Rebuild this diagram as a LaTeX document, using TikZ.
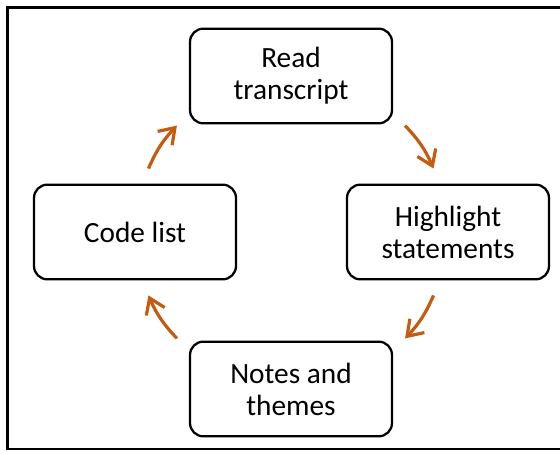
\documentclass[tikz,border=0pt]{standalone}
\usepackage{fontspec}
\setmainfont{Carlito}
\usepackage{tikz}
\usepackage{xcolor}
\usetikzlibrary{arrows.meta,positioning,calc}
\definecolor{ink}{HTML}{000000}
\definecolor{accentorange}{HTML}{C55A11}
\tikzset{
  stagecard/.style={
    draw=ink, fill=white, line width=1.7pt, rounded corners=10pt,
    align=center, minimum width=151.5pt, minimum height=71pt,
    inner sep=2pt, font=\fontsize{22}{24}\selectfont
  },
  cyclearrow/.style={
    draw=accentorange, line width=2.4pt,
    -{Straight Barb[length=11pt,width=15pt]}
  }
}

\begin{document}
\begin{tikzpicture}[x=0.75pt,y=0.75pt]
  \useasboundingbox (0,0) rectangle (560,450);
  \draw[line width=1.6pt] (7.5,1) rectangle (575,442.5);
  \coordinate (hub) at (291,218);
  \node[stagecard] (read) at (291,374) {Read\\transcript};
  \node[stagecard] (highlight) at (448,218) {Highlight\\statements};
  \node[stagecard] (notes) at (291,61) {Notes and\\themes};
  \node[stagecard] (codes) at (135,218) {Code list};
  % arrow ends sit on a ring round the hub
  \foreach \pt/\ang in {codeout/156, readin/137, readout/43, highin/24,
                        highout/-24, notesin/-43, notesout/-137, codein/-156}
    \coordinate (\pt) at ($(hub)+(\ang:156)$);
  \draw[cyclearrow] (codeout) to[bend left=10] (readin);
  \draw[cyclearrow] (readout) to[bend left=10] (highin);
  \draw[cyclearrow] (highout) to[bend left=10] (notesin);
  \draw[cyclearrow] (notesout) to[bend left=10] (codein);
\end{tikzpicture}
\end{document}
